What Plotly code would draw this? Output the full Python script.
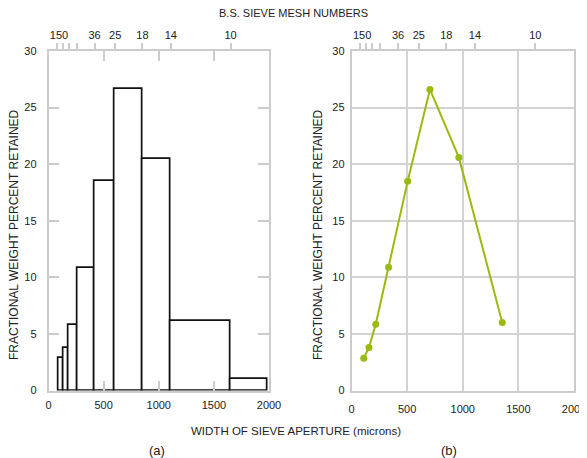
import plotly.graph_objects as go

# ---- data ----
bin_edges = [89, 134, 180, 265, 413, 600, 854, 1105, 1653, 1990]
bar_pct = [2.9, 3.8, 5.8, 10.8, 18.5, 26.6, 20.5, 6.15, 1.05]

pt_x = [110, 157, 218, 333, 505, 705, 965, 1355]
pt_y = [2.85, 3.8, 5.85, 10.9, 18.5, 26.6, 20.6, 6.0]

mesh_tick_vals = [78, 130, 182, 255, 418, 605, 852, 1110, 1652]
mesh_label_vals = [95, 418, 605, 852, 1110, 1652]
mesh_label_text = ["150", "36", "25", "18", "14", "10"]

x_ticks = [0, 500, 1000, 1500, 2000]
y_ticks = [0, 5, 10, 15, 20, 25, 30]

# ---- layout constants ----
OFF = 8  # page body margin in the browser
W, H = 587 - OFF, 458 - OFF
FONT = "Liberation Sans, Arial, sans-serif"
GRAY = "#cccccc"
TXT = "#222222"
GREEN = "#99bb0f"

def px_x(p):
    return (p - OFF) / W

def px_y(p):
    return 1 - (p - OFF) / H

dom_a = [px_x(48.5), px_x(269)]
dom_b = [px_x(351.5), px_x(574)]
dom_y = [px_y(390.5), px_y(51)]

centers = [(a + b) / 2 for a, b in zip(bin_edges[:-1], bin_edges[1:])]
widths = [b - a for a, b in zip(bin_edges[:-1], bin_edges[1:])]

fig = go.Figure()
fig.add_trace(go.Bar(
    x=centers, y=bar_pct, width=widths,
    marker=dict(color="white", line=dict(color="#111111", width=1.7)),
    xaxis="x", yaxis="y", showlegend=False, hoverinfo="skip",
))
fig.add_trace(go.Scatter(
    x=pt_x, y=pt_y, mode="lines+markers",
    line=dict(color=GREEN, width=2),
    marker=dict(color=GREEN, size=7),
    xaxis="x2", yaxis="y2", showlegend=False,
))
# invisible carriers so the top mesh-number axes get drawn
for xa, ya in [("x3", "y"), ("x4", "y"), ("x5", "y2"), ("x6", "y2")]:
    fig.add_trace(go.Scatter(
        x=[1000], y=[-10], mode="markers", marker=dict(opacity=0),
        xaxis=xa, yaxis=ya, showlegend=False, hoverinfo="skip",
    ))

tickfont = dict(family=FONT, size=11, color=TXT)

def mesh_axes(base, anchor):
    ticks_ax = dict(
        overlaying=base, anchor=anchor, side="top", range=[0, 2000],
        tickmode="array", tickvals=mesh_tick_vals, ticks="outside",
        ticklen=7, tickcolor=GRAY, tickwidth=1.5, showticklabels=False,
        showgrid=False, zeroline=False, showline=False, automargin=False,
    )
    label_ax = dict(
        overlaying=base, anchor=anchor, side="top", range=[0, 2000],
        tickmode="array", tickvals=mesh_label_vals, ticktext=mesh_label_text,
        ticks="outside", ticklen=7, tickcolor="rgba(0,0,0,0)",
        tickfont=tickfont, showgrid=False, zeroline=False, showline=False,
        automargin=False,
    )
    return ticks_ax, label_ax

m1t, m1l = mesh_axes("x", "y")
m2t, m2l = mesh_axes("x2", "y2")

fig.update_layout(
    width=W, height=H,
    margin=dict(l=0, r=0, t=0, b=0, autoexpand=False),
    paper_bgcolor="white", plot_bgcolor="white",
    font=dict(family=FONT, size=11, color=TXT),
    bargap=0,
    xaxis=dict(
        domain=dom_a, anchor="y", range=[0, 2000], tickvals=x_ticks,
        ticks="inside", ticklen=10, tickcolor=GRAY, tickwidth=1.5,
        showline=True, linecolor=GRAY, linewidth=1.5, mirror="ticks",
        showgrid=False, zeroline=False, tickfont=tickfont,
        ticklabelstandoff=4, automargin=False,
    ),
    yaxis=dict(
        domain=dom_y, anchor="x", range=[0, 30], tickvals=y_ticks,
        ticks="inside", ticklen=11, tickcolor=GRAY, tickwidth=1.5,
        showline=True, linecolor=GRAY, linewidth=1.5, mirror="ticks",
        showgrid=False, zeroline=False, tickfont=tickfont,
        ticklabelstandoff=8, automargin=False,
    ),
    xaxis2=dict(
        domain=dom_b, anchor="y2", range=[0, 2000], tickvals=x_ticks,
        ticks="", showline=True, linecolor=GRAY, linewidth=1.5, mirror=True,
        showgrid=True, gridcolor="#d3d3d3", gridwidth=1.5, zeroline=False,
        tickfont=tickfont, ticklabelstandoff=8, automargin=False,
    ),
    yaxis2=dict(
        domain=dom_y, anchor="x2", range=[0, 30], tickvals=y_ticks,
        ticks="", showline=True, linecolor=GRAY, linewidth=1.5, mirror=True,
        showgrid=True, gridcolor="#d3d3d3", gridwidth=1.5, zeroline=False,
        tickfont=tickfont, ticklabelstandoff=3, automargin=False,
    ),
    xaxis3=m1t, xaxis4=m1l, xaxis5=m2t, xaxis6=m2l,
)

def ann(text, x, y, size=11, angle=0):
    fig.add_annotation(
        text=text, x=px_x(x), y=px_y(y), xref="paper", yref="paper",
        showarrow=False, textangle=angle, xanchor="center", yanchor="middle",
        font=dict(family=FONT, size=size, color=TXT),
    )

ann("B.S. SIEVE MESH NUMBERS", 293, 13)
ann("WIDTH OF SIEVE APERTURE (microns)", 296, 431, size=11.5)
ann("(a)", 157, 450, size=13)
ann("(b)", 449, 450, size=13)
ann("FRACTIONAL WEIGHT PERCENT RETAINED", 14, 235, size=12, angle=-90)
ann("FRACTIONAL WEIGHT PERCENT RETAINED", 318, 235, size=12, angle=-90)

fig.write_html("out.html")
